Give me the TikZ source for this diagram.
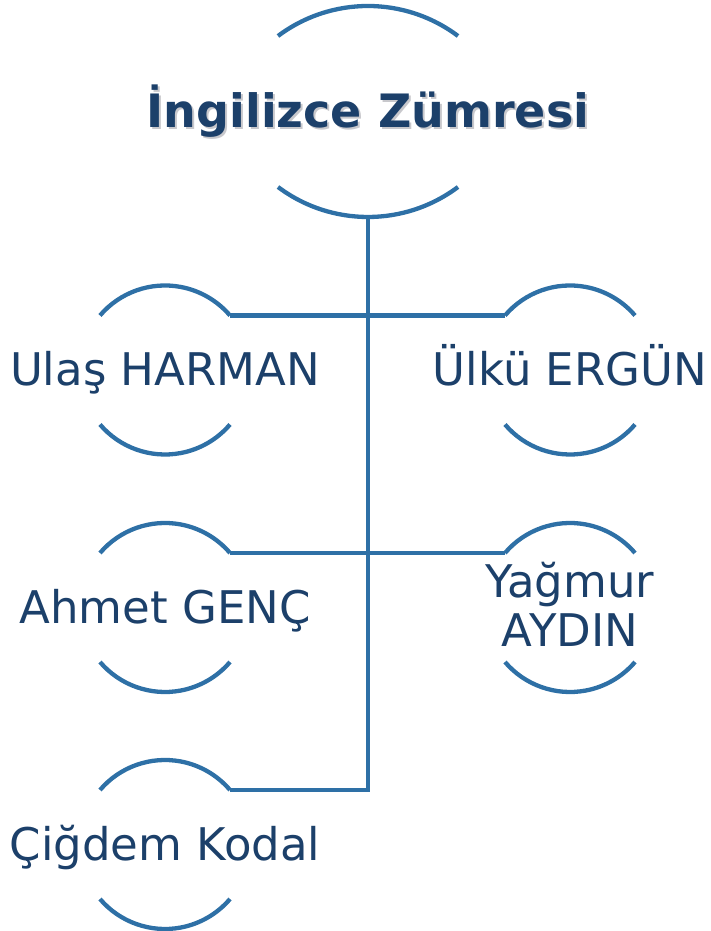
\documentclass[tikz,border=0pt]{standalone}
\usepackage{fontspec}
\setmainfont{DejaVu Sans}
\definecolor{linecol}{RGB}{46,112,166}
\definecolor{txtcol}{RGB}{28,64,106}
\definecolor{shadowcol}{RGB}{200,200,204}
\newcommand\smallbrk[3]{%
  \coordinate (#1-tl) at (#2-65,#3+54.5);
  \coordinate (#1-tr) at (#2+65,#3+54.5);
  \coordinate (#1-bl) at (#2-65,#3-54.5);
  \draw[arcline] (#1-tl) arc[start angle=139.56,end angle=40.44,radius=85.4pt];
  \draw[arcline] (#1-bl) arc[start angle=220.44,end angle=319.56,radius=85.4pt];
}
\newcommand\shadowed[1]{\rlap{\kern2pt\raisebox{-2pt}{\color{shadowcol}#1}}#1}
\begin{document}
\begin{tikzpicture}[x=1pt,y=1pt,
  arcline/.style={draw=linecol, line width=4.3pt},
  conn/.style={draw=linecol, line width=4.3pt},
  person/.style={text=txtcol, font=\fontsize{45}{49}\selectfont, inner sep=0pt, align=center},
  titletext/.style={text=txtcol, font=\fontsize{46}{50}\selectfont\bfseries, inner sep=0pt}]
\useasboundingbox (0,0) rectangle (711,931);
% top node brackets
\coordinate (top-tl) at (278,895);
\coordinate (top-bl) at (278,744);
\coordinate (top-b) at (368,715);
\draw[arcline] (top-tl) arc[start angle=126.87,end angle=53.13,radius=150pt];
\draw[arcline] (top-bl) arc[start angle=233.13,end angle=306.87,radius=150pt];
\node[titletext, anchor=base] (title) at (368,803) {\shadowed{İngilizce Zümresi}};
% member brackets
\smallbrk{ulas}{165}{561}
\smallbrk{ulku}{570}{561}
\smallbrk{ahmet}{165}{323.5}
\smallbrk{yagmur}{570}{323.5}
\smallbrk{cigdem}{165}{86.5}
% names
\node[person, anchor=base] (ulas) at (165,545) {Ulaş HARMAN};
\node[person, anchor=base] (ulku) at (570,545) {Ülkü ERGÜN};
\node[person, anchor=base] (ahmet) at (165,307.5) {Ahmet GENÇ};
\node[person, anchor=base] (yagmur) at (570,284) {Yağmur\\AYDIN};
\node[person, anchor=base] (cigdem) at (165,70.5) {Çiğdem Kodal};
% connectors
\draw[conn] (ulas-tr) -- (ulku-tl);
\draw[conn] (ahmet-tr) -- (yagmur-tl);
\draw[conn] (top-b) |- (cigdem-tr);
\end{tikzpicture}
\end{document}
